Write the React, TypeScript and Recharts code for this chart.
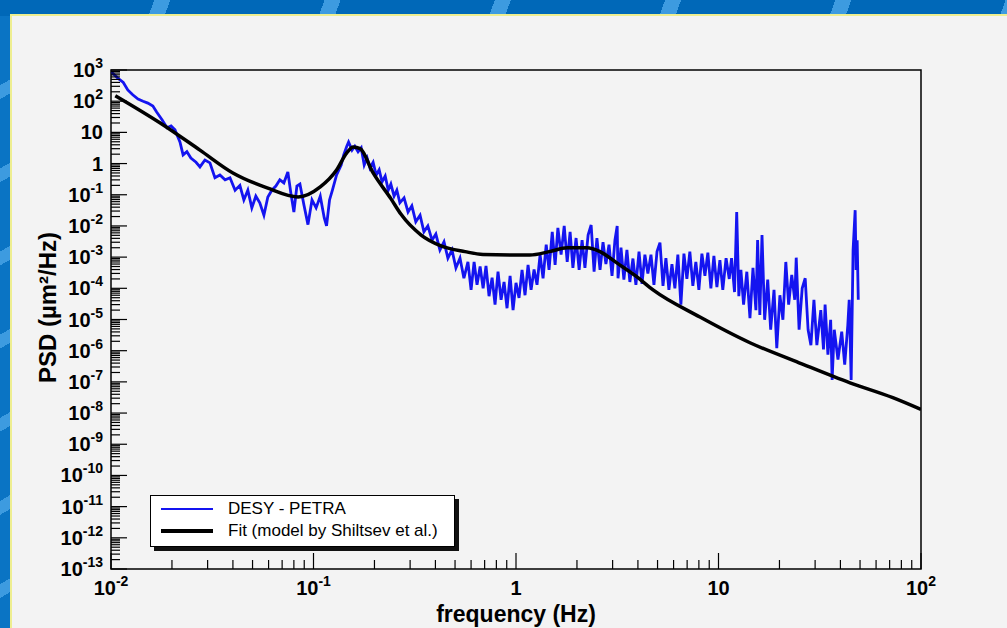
import { ComposedChart, Legend, Line, ReferenceArea, XAxis, YAxis } from 'recharts'

type Pt = [number, number]

// frequency (Hz), PSD (um^2/Hz)
const petraLow: Pt[] = [
  [0.01, 870], [0.0103, 740], [0.0108, 550], [0.0115, 400], [0.0121, 230], [0.0128, 160],
  [0.0136, 117], [0.0144, 100], [0.0152, 87], [0.0161, 70], [0.0168, 45], [0.0179, 25],
  [0.0189, 14], [0.0198, 16], [0.0207, 12], [0.0219, 4.9], [0.0227, 1.9], [0.0237, 2.4],
  [0.0248, 1.5], [0.0263, 1.1], [0.0275, 0.78], [0.0291, 1.3], [0.0308, 1.05], [0.0326, 0.35],
  [0.0345, 0.43], [0.0366, 0.3], [0.0387, 0.35], [0.041, 0.14], [0.0433, 0.2], [0.0453, 0.068],
  [0.0474, 0.14], [0.0496, 0.038], [0.0519, 0.09], [0.0543, 0.055], [0.0569, 0.022], [0.0595, 0.085],
  [0.0623, 0.14], [0.0652, 0.19], [0.0682, 0.3], [0.0714, 0.24], [0.0747, 0.54], [0.0774, 0.107],
  [0.08, 0.028], [0.0828, 0.19], [0.0857, 0.22], [0.0897, 0.047], [0.0939, 0.011], [0.0983, 0.068],
  [0.103, 0.038], [0.108, 0.09], [0.113, 0.018], [0.116, 0.01], [0.12, 0.068],
]

const petraPeak: Pt[] = [
  [0.124, 0.14], [0.13, 0.43], [0.137, 0.9], [0.141, 1.9], [0.146, 3.6], [0.149, 4.9],
  [0.155, 2.7], [0.16, 3.6], [0.166, 2.4], [0.172, 3.2], [0.178, 0.9], [0.184, 1.5],
  [0.19, 0.72], [0.197, 1.1], [0.204, 0.43], [0.211, 0.63], [0.218, 0.26], [0.226, 0.4],
  [0.234, 0.14], [0.241, 0.22], [0.25, 0.09], [0.258, 0.14], [0.267, 0.055], [0.28, 0.079],
  [0.293, 0.028], [0.306, 0.044], [0.32, 0.0135], [0.336, 0.022], [0.351, 0.0065], [0.367, 0.01],
  [0.385, 0.0035], [0.402, 0.0055], [0.421, 0.0017], [0.441, 0.0031], [0.461, 9.3e-4], [0.483, 0.0017],
  [0.505, 4.5e-4], [0.529, 9.3e-4], [0.553, 2.1e-4], [0.579, 7e-4],
]

const petraMid: Pt[] = [
  [0.6, 8.9e-5], [0.621, 7e-4], [0.642, 1.3e-4], [0.665, 5e-4], [0.688, 1e-4], [0.711, 5.2e-4],
  [0.736, 5.6e-5], [0.762, 2.2e-4], [0.788, 3e-5], [0.815, 3.4e-4], [0.844, 4.3e-5], [0.873, 1.6e-4],
  [0.903, 2.3e-5], [0.935, 2.5e-4], [0.967, 2e-5], [1.0, 1.5e-4], [1.035, 4.9e-5], [1.071, 3.9e-4],
  [1.108, 6e-5], [1.147, 5.6e-4], [1.187, 8.9e-5], [1.228, 4e-4], [1.27, 1.3e-4], [1.315, 0.0012],
  [1.36, 2.1e-4], [1.41, 0.0025], [1.456, 3.9e-4], [1.51, 0.0065], [1.56, 5.6e-4], [1.61, 0.0087],
  [1.67, 1.2e-3], [1.73, 0.01], [1.79, 7e-4], [1.85, 0.0065], [1.91, 4.5e-4], [1.98, 0.0041],
  [2.05, 3.9e-4], [2.12, 0.0035], [2.19, 4.5e-4], [2.27, 0.0051], [2.35, 0.0107], [2.43, 3.4e-4],
  [2.51, 0.0041], [2.6, 3.9e-4], [2.69, 0.003], [2.78, 6e-4], [2.88, 0.0025], [2.98, 2.5e-4],
  [3.08, 0.0035], [3.16, 0.01], [3.19, 2.1e-4], [3.3, 0.002],
]

const petraHigh: Pt[] = [
  [3.41, 1.9e-4], [3.53, 0.0017], [3.65, 1.6e-4], [3.78, 0.0009], [3.91, 1.3e-4], [4.05, 0.0015],
  [4.19, 1.4e-4], [4.33, 0.0012], [4.48, 3e-4], [4.64, 0.0012], [4.8, 1.3e-4], [4.97, 0.0015],
  [5.14, 0.0029], [5.32, 1.2e-4], [5.5, 9.3e-4], [5.69, 8.9e-5], [5.89, 0.0006], [6.09, 1e-4],
  [6.3, 0.0012], [6.52, 3e-5], [6.75, 0.0013], [6.98, 2e-4], [7.22, 0.0015], [7.47, 1.2e-4],
  [7.73, 0.0007], [8.0, 8.9e-5], [8.28, 0.0013], [8.57, 2.5e-4], [8.86, 0.0014], [9.17, 1e-4],
  [9.49, 0.0011], [9.82, 1.1e-4], [10.16, 0.0008], [10.5, 8.9e-5], [10.9, 9.3e-4], [11.3, 2e-4],
  [11.6, 9.3e-4], [12.0, 7.6e-5], [12.3, 0.028], [12.6, 5.6e-5], [12.9, 3.9e-4], [13.3, 3e-5],
  [13.8, 3.4e-4], [14.3, 1.1e-5], [14.8, 4.5e-4], [15.3, 2e-5], [15.6, 0.0035], [16.0, 1.4e-5],
  [16.4, 0.0051], [16.9, 9.8e-6], [17.5, 1.9e-4], [18.1, 4.7e-6], [18.8, 8.9e-5], [19.4, 1.2e-6],
  [20.1, 6e-5], [20.8, 9.8e-6], [21.5, 7e-4], [22.2, 3e-5], [23.0, 2.7e-4], [23.8, 4.3e-5],
  [24.2, 9.6e-4], [25.0, 4.7e-6], [25.9, 1e-4], [26.8, 2.1e-4], [27.7, 4.7e-6], [28.6, 1.5e-6],
  [29.6, 4.3e-5], [30.6, 1.5e-6], [32.0, 2e-5], [33.0, 1.1e-6], [33.6, 3e-5], [34.7, 7.5e-7],
  [35.8, 9.8e-6], [36.4, 1.15e-7], [37.3, 4.7e-6], [38.9, 5.2e-7], [40.6, 4.1e-6], [42.0, 3.6e-7],
  [43.5, 6.5e-6], [44.2, 4.3e-5], [45.2, 1.15e-7], [46.2, 0.0017], [47.3, 0.032], [47.8, 3.9e-4],
  [48.4, 0.0035], [49.0, 4.3e-5],
]

// fitted model curve
const fitCurve: Pt[] = [
  [0.0105, 150], [0.0175, 20], [0.0275, 2.7], [0.04, 0.5], [0.059, 0.166], [0.084, 0.085],
  [0.108, 0.178], [0.13, 0.62], [0.146, 2.2], [0.157, 3.4], [0.17, 3.0], [0.197, 0.5],
  [0.241, 0.075], [0.27, 0.024], [0.34, 0.0051], [0.426, 0.0023], [0.56, 0.0015], [0.687, 0.00122],
  [1.17, 0.00117], [1.46, 0.0015], [1.79, 0.002], [2.24, 0.002], [2.6, 0.0015], [3.16, 6.4e-4],
  [3.9, 2.5e-4], [4.75, 8.9e-5], [8.1, 1.2e-5], [14.3, 1.8e-6], [25, 4.1e-7], [44.6, 9.3e-8],
  [72.6, 3.1e-8], [100, 1.3e-8],
]

const xMajorTicks = [0.01, 0.1, 1, 10, 100]
const yMajorTicks = [
  1e-13, 1e-12, 1e-11, 1e-10, 1e-9, 1e-8, 1e-7, 1e-6, 1e-5, 1e-4, 1e-3, 1e-2, 1e-1, 1, 10, 100, 1000,
]

const FONT = "'Liberation Sans', Arial, Helvetica, sans-serif"

const toRows = (pts: Pt[]) => pts.map(([f, psd]) => ({ f, psd }))
const petraRows = toRows([...petraLow, ...petraPeak, ...petraMid, ...petraHigh])
const fitRows = toRows(fitCurve)

function withMinor(majors: number[]): number[] {
  const out: number[] = []
  majors.forEach((m, i) => {
    out.push(m)
    if (i < majors.length - 1) for (let k = 2; k <= 9; k++) out.push(m * k)
  })
  return out
}

function decade(v: number) {
  const lg = Math.log10(v)
  const e = Math.round(lg)
  return { e, major: Math.abs(lg - e) < 1e-6 }
}

function powerLabel(e: number) {
  if (e === 0) return '1'
  if (e === 1) return '10'
  return (
    <>
      10
      <tspan dy={-9} fontSize={14}>
        {e}
      </tspan>
    </>
  )
}

function YTick(props: any) {
  const { x, y, payload } = props
  const { e, major } = decade(payload.value)
  return (
    <g>
      <line x1={x} x2={x + (major ? 16 : 9)} y1={y} y2={y} stroke="#000" strokeWidth={1.2} />
      {major && (
        <text x={x - 8} y={y + 7} textAnchor="end" fontFamily={FONT} fontWeight="bold" fontSize={20} fill="#000">
          {powerLabel(e)}
        </text>
      )}
    </g>
  )
}

function XTick(props: any) {
  const { x, y, payload } = props
  const { e, major } = decade(payload.value)
  return (
    <g>
      <line x1={x} x2={x} y1={y} y2={y - (major ? 16 : 9)} stroke="#000" strokeWidth={1.2} />
      {major && (
        <text x={x} y={y + 26} textAnchor="middle" fontFamily={FONT} fontWeight="bold" fontSize={20} fill="#000">
          {powerLabel(e)}
        </text>
      )}
    </g>
  )
}

function YTitle(props: any) {
  const { viewBox } = props
  const cx = viewBox.x + 25
  const cy = viewBox.y + viewBox.height / 2 - 12
  return (
    <text
      x={cx}
      y={cy}
      transform={`rotate(-90, ${cx}, ${cy})`}
      textAnchor="middle"
      fontFamily={FONT}
      fontWeight="bold"
      fontSize={24}
      fill="#000"
    >
      PSD (µm²/Hz)
    </text>
  )
}

function LegendBox(props: any) {
  const { payload = [] } = props
  return (
    <div
      style={{
        width: 305,
        height: 52,
        boxSizing: 'border-box',
        background: '#fff',
        border: '1px solid #000',
        boxShadow: '4px 4px 0 #111',
        padding: '2px 0 0 10px',
        fontFamily: FONT,
        fontSize: 17,
        color: '#000',
      }}
    >
      {payload.map((entry: any) => (
        <div key={entry.value} style={{ display: 'flex', alignItems: 'center', height: 22 }}>
          <span
            style={{
              display: 'inline-block',
              width: 52,
              height: entry.payload?.strokeWidth ?? 2,
              background: entry.color,
              marginRight: 15,
            }}
          />
          <span>{entry.value}</span>
        </div>
      ))}
    </div>
  )
}

export default function App() {
  return (
    <div style={{ position: 'absolute', left: 0, top: 0, width: 1007, height: 628, overflow: 'hidden', background: '#0068b8' }}>
      <div
        style={{
          position: 'absolute',
          left: 0,
          top: 0,
          width: 1007,
          height: 16,
          background: 'repeating-linear-gradient(110deg, #0068b8 0px, #0068b8 145px, #3d9be0 145px, #3d9be0 160px)',
        }}
      />
      <div
        style={{
          position: 'absolute',
          left: 0,
          top: 16,
          width: 12,
          height: 612,
          background: 'repeating-linear-gradient(150deg, #0a74c4 0px, #0a74c4 60px, #3d9be0 60px, #3d9be0 72px)',
        }}
      />
      <div
        style={{
          position: 'absolute',
          left: 10,
          top: 14,
          right: 0,
          bottom: 0,
          background: '#f3f3f3',
          borderLeft: '2px solid #eeee90',
          borderTop: '2px solid #eeee90',
        }}
      />
      <div style={{ position: 'absolute', left: 0, top: 0 }}>
        <ComposedChart width={1007} height={628} margin={{ top: 70, right: 86, bottom: 9, left: 31 }}>
          <XAxis
            dataKey="f"
            type="number"
            scale="log"
            domain={[0.01, 100]}
            allowDataOverflow
            ticks={withMinor(xMajorTicks)}
            interval={0}
            tick={<XTick />}
            tickSize={0}
            tickMargin={0}
            tickLine={false}
            axisLine={false}
            height={50}
            label={{
              value: 'frequency (Hz)',
              position: 'insideBottom',
              offset: -3,
              style: { fontFamily: FONT, fontWeight: 'bold', fontSize: 23, fill: '#000' },
            }}
          />
          <YAxis
            type="number"
            scale="log"
            domain={[1e-13, 1e3]}
            allowDataOverflow
            ticks={withMinor(yMajorTicks)}
            interval={0}
            tick={<YTick />}
            tickSize={0}
            tickMargin={0}
            tickLine={false}
            axisLine={false}
            width={80}
            label={<YTitle />}
          />
          <ReferenceArea
            x1={0.01}
            x2={100}
            y1={1e-13}
            y2={1e3}
            fill="none"
            fillOpacity={0}
            stroke="#000"
            strokeWidth={1.5}
          />
          <Line
            data={petraRows}
            dataKey="psd"
            name="DESY - PETRA"
            type="linear"
            stroke="#1414f0"
            strokeWidth={2.8}
            dot={false}
            activeDot={false}
            isAnimationActive={false}
          />
          <Line
            data={fitRows}
            dataKey="psd"
            name="Fit (model by Shiltsev et al.)"
            type="monotone"
            stroke="#000"
            strokeWidth={3.5}
            dot={false}
            activeDot={false}
            isAnimationActive={false}
          />
          <Legend
            layout="vertical"
            align="center"
            verticalAlign="middle"
            content={<LegendBox />}
            wrapperStyle={{ left: 150, top: 495, width: 'auto' }}
          />
        </ComposedChart>
      </div>
    </div>
  )
}
